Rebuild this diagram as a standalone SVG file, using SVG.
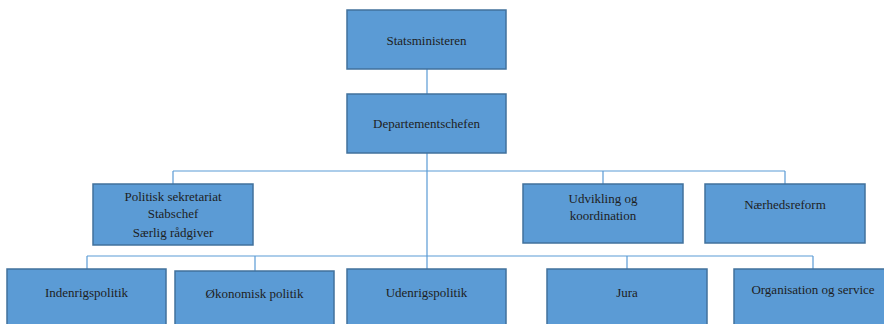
<svg xmlns="http://www.w3.org/2000/svg" width="884" height="324" viewBox="0 0 884 324">
<style>
.box{fill:#5b9bd5;stroke:#41719c;stroke-width:1.5}
.t{font-family:'Liberation Serif','Times New Roman','DejaVu Serif',serif;font-size:13px;fill:#1e1e1e;text-anchor:middle}
.c{fill:none;stroke:#5b9bd5;stroke-width:1.2}
</style>
<rect width="884" height="324" fill="#fff"/>
<g id="connectors">
<path class="c" d="M427 69V94M427 153V269M173 171H785M173 171V184M603 171V184M785 171V184M87 256H813M87 256V269M255 256V271M627 256V269M813 256V269"/>
</g>
<g id="statsministeren"><rect class="box" x="347" y="10" width="159" height="59"/><text class="t" x="426.500" y="45">Statsministeren</text></g>
<g id="departementschefen"><rect class="box" x="347" y="94" width="159" height="59"/><text class="t" x="426.500" y="128">Departementschefen</text></g>
<g id="politisk"><rect class="box" x="93" y="184" width="160" height="61"/><text class="t" x="173" y="201">Politisk sekretariat</text><text class="t" x="173" y="218">Stabschef</text><text class="t" x="173" y="237">Særlig rådgiver</text></g>
<g id="udvikling"><rect class="box" x="523" y="184" width="160" height="59"/><text class="t" x="603" y="203">Udvikling og</text><text class="t" x="603" y="220">koordination</text></g>
<g id="naerhedsreform"><rect class="box" x="705" y="184" width="160" height="59"/><text class="t" x="785" y="209">Nærhedsreform</text></g>
<g id="indenrigspolitik"><rect class="box" x="7" y="269" width="159" height="62"/><text class="t" x="86.500" y="297">Indenrigspolitik</text></g>
<g id="okonomisk"><rect class="box" x="175" y="271" width="159" height="62"/><text class="t" x="254.500" y="298">Økonomisk politik</text></g>
<g id="udenrigspolitik"><rect class="box" x="347" y="269" width="159" height="62"/><text class="t" x="426.500" y="297">Udenrigspolitik</text></g>
<g id="jura"><rect class="box" x="547" y="269" width="160" height="62"/><text class="t" x="627" y="297">Jura</text></g>
<g id="organisation"><rect class="box" x="734" y="269" width="160" height="62"/><text class="t" x="813" y="294">Organisation og service</text></g>
</svg>
